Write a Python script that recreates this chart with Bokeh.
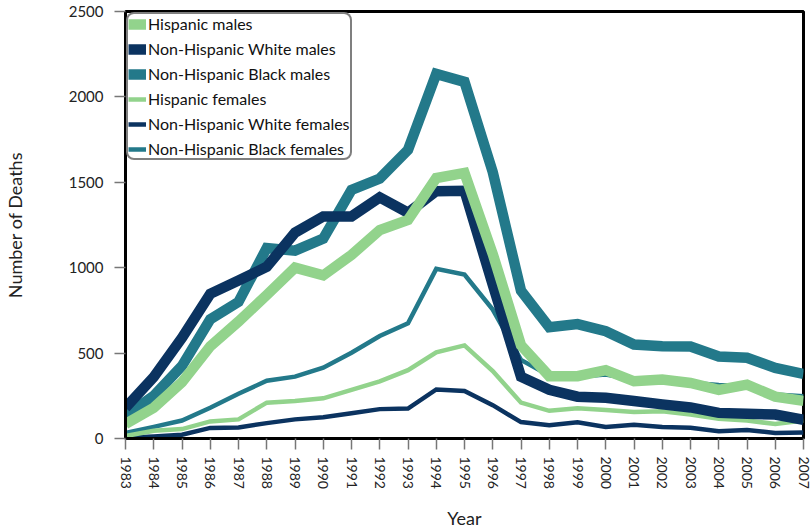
from bokeh.plotting import figure
from bokeh.models import Range1d, FixedTicker, Legend, LegendItem
from bokeh.embed import file_html
from bokeh.resources import INLINE

years = list(range(1983, 2008))
year_labels = [str(y) for y in years]
y_ticks = [0, 500, 1000, 1500, 2000, 2500]

hispanic_males = [85, 180, 330, 540, 685, 840, 1000, 955, 1075, 1220, 1280, 1525, 1555, 1080, 545, 365, 365, 400, 335, 345, 325, 285, 315, 245, 220]
white_males = [180, 360, 590, 847, 925, 1005, 1205, 1300, 1300, 1412, 1322, 1448, 1450, 900, 362, 285, 245, 238, 220, 200, 182, 150, 145, 140, 110]
black_males = [133, 250, 425, 698, 800, 1115, 1100, 1170, 1455, 1522, 1690, 2135, 2088, 1560, 865, 652, 670, 628, 550, 540, 538, 480, 473, 413, 378]
hispanic_females = [15, 45, 55, 100, 112, 210, 220, 235, 285, 335, 400, 505, 545, 395, 210, 162, 177, 167, 155, 160, 140, 115, 105, 85, 105]
white_females = [4, 12, 22, 62, 65, 90, 112, 125, 148, 172, 175, 287, 278, 195, 96, 78, 95, 68, 80, 68, 63, 42, 50, 32, 35]
black_females = [32, 68, 105, 180, 262, 338, 362, 415, 502, 600, 675, 993, 960, 755, 460, 368, 362, 375, 345, 340, 327, 313, 305, 258, 247]

GREEN = "#92d38c"
NAVY = "#0b3360"
TEAL = "#23798a"
FONT = "Lato"

p = figure(width=812, height=531, x_range=Range1d(1983, 2007), y_range=Range1d(0, 2500),
           output_backend="svg", toolbar_location=None,
           min_border_left=123, min_border_right=9, min_border_top=11, min_border_bottom=92)
p.grid.visible = False
p.outline_line_color = "black"
p.outline_line_width = 3
p.background_fill_color = "white"
p.border_fill_color = "white"

# thin lines first (females), then thick (males)
rf_b = p.line(years, black_females, line_color=TEAL, line_width=4.5, line_join="miter")
rf_w = p.line(years, white_females, line_color=NAVY, line_width=4.5, line_join="miter")
rf_h = p.line(years, hispanic_females, line_color=GREEN, line_width=4.5, line_join="miter")
rm_b = p.line(years, black_males, line_color=TEAL, line_width=10.5, line_join="miter")
rm_w = p.line(years, white_males, line_color=NAVY, line_width=10.5, line_join="miter")
rm_h = p.line(years, hispanic_males, line_color=GREEN, line_width=10.5, line_join="miter")

for ax in (p.xaxis[0], p.yaxis[0]):
    ax.axis_line_color = "black"
    ax.axis_line_width = 3
    ax.major_tick_in = 0
    ax.major_tick_out = 11
    ax.major_tick_line_color = "#777777"
    ax.major_tick_line_width = 1.5
    ax.minor_tick_line_color = None
    ax.major_label_text_font = FONT
    ax.major_label_text_font_size = "15px"
    ax.major_label_text_color = "#222222"
    ax.axis_label_text_font = FONT
    ax.axis_label_text_font_size = "18px"
    ax.axis_label_text_font_style = "normal"
    ax.axis_label_text_color = "#222222"

p.xaxis.ticker = FixedTicker(ticks=years)
p.xaxis.major_label_overrides = {y: s for y, s in zip(years, year_labels)}
p.xaxis.major_label_orientation = "vertical"
p.xaxis.major_label_text_font_size = "14px"
p.xaxis.major_label_standoff = 7
p.xaxis.axis_label = "Year"
p.xaxis.axis_label_standoff = 15

p.yaxis.ticker = FixedTicker(ticks=y_ticks)
p.yaxis.major_label_standoff = 11
p.yaxis.axis_label = "Number of Deaths"
p.yaxis.axis_label_standoff = 40

legend = Legend(items=[
    LegendItem(label="Hispanic males", renderers=[rm_h]),
    LegendItem(label="Non-Hispanic White males", renderers=[rm_w]),
    LegendItem(label="Non-Hispanic Black males", renderers=[rm_b]),
    LegendItem(label="Hispanic females", renderers=[rf_h]),
    LegendItem(label="Non-Hispanic White females", renderers=[rf_w]),
    LegendItem(label="Non-Hispanic Black females", renderers=[rf_b]),
], location="top_left")
legend.margin = 1
legend.padding = 0
legend.spacing = 6
legend.label_height = 18
legend.glyph_height = 14
legend.glyph_width = 18
legend.label_standoff = 2
legend.label_text_font = FONT
legend.label_text_font_size = "16px"
legend.label_text_color = "#111111"
legend.border_line_color = "black"
legend.border_line_width = 2
legend.background_fill_color = "white"
legend.background_fill_alpha = 1.0
try:
    legend.border_radius = 8
except Exception:
    pass
p.add_layout(legend)

open("out.html", "w").write(file_html(p, INLINE))
